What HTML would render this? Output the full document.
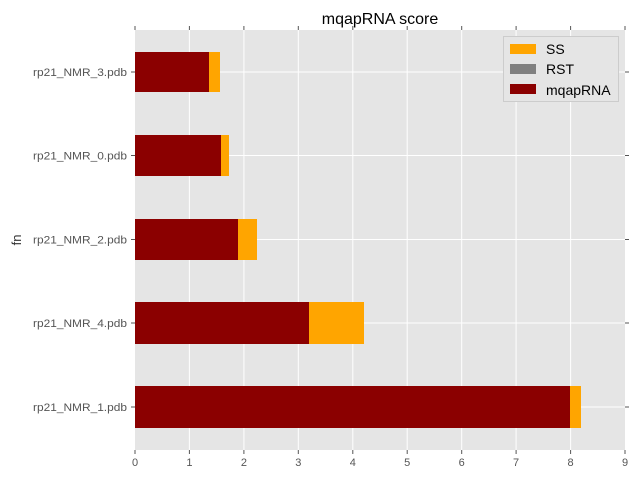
<!DOCTYPE html>
<html><head><style>body{margin:0;background:#fff}svg{display:block;font-family:"Liberation Sans","DejaVu Sans",sans-serif}</style></head>
<body>
<svg width="640" height="480" xmlns="http://www.w3.org/2000/svg">
<rect x="135" y="30" width="490" height="420" fill="#e5e5e5"/>
<g stroke="#fff" stroke-width="1">
<line x1="189.4" y1="30" x2="189.4" y2="450"/><line x1="243.9" y1="30" x2="243.9" y2="450"/><line x1="298.3" y1="30" x2="298.3" y2="450"/><line x1="352.8" y1="30" x2="352.8" y2="450"/><line x1="407.2" y1="30" x2="407.2" y2="450"/><line x1="461.7" y1="30" x2="461.7" y2="450"/><line x1="516.1" y1="30" x2="516.1" y2="450"/><line x1="570.6" y1="30" x2="570.6" y2="450"/>
<line x1="135" y1="72" x2="625" y2="72"/><line x1="135" y1="155.5" x2="625" y2="155.5"/><line x1="135" y1="239.5" x2="625" y2="239.5"/><line x1="135" y1="323" x2="625" y2="323"/><line x1="135" y1="407" x2="625" y2="407"/>
</g>
<g>
<rect x="135" y="52" width="85" height="40" fill="#ffa500"/><rect x="135" y="52" width="74" height="40" fill="#8b0000"/>
<rect x="135" y="135" width="94" height="41" fill="#ffa500"/><rect x="135" y="135" width="86" height="41" fill="#8b0000"/>
<rect x="135" y="219" width="122" height="41" fill="#ffa500"/><rect x="135" y="219" width="103" height="41" fill="#8b0000"/>
<rect x="135" y="302" width="229" height="42" fill="#ffa500"/><rect x="135" y="302" width="174" height="42" fill="#8b0000"/>
<rect x="135" y="386" width="446" height="42" fill="#ffa500"/><rect x="135" y="386" width="435" height="42" fill="#8b0000"/>
</g>
<g stroke="#555" stroke-width="1">
<line x1="135" y1="450" x2="135" y2="454"/><line x1="189.4" y1="450" x2="189.4" y2="454"/><line x1="243.9" y1="450" x2="243.9" y2="454"/><line x1="298.3" y1="450" x2="298.3" y2="454"/><line x1="352.8" y1="450" x2="352.8" y2="454"/><line x1="407.2" y1="450" x2="407.2" y2="454"/><line x1="461.7" y1="450" x2="461.7" y2="454"/><line x1="516.1" y1="450" x2="516.1" y2="454"/><line x1="570.6" y1="450" x2="570.6" y2="454"/><line x1="625" y1="450" x2="625" y2="454"/>
<line x1="135" y1="26" x2="135" y2="30"/><line x1="189.4" y1="26" x2="189.4" y2="30"/><line x1="243.9" y1="26" x2="243.9" y2="30"/><line x1="298.3" y1="26" x2="298.3" y2="30"/><line x1="352.8" y1="26" x2="352.8" y2="30"/><line x1="407.2" y1="26" x2="407.2" y2="30"/><line x1="461.7" y1="26" x2="461.7" y2="30"/><line x1="516.1" y1="26" x2="516.1" y2="30"/><line x1="570.6" y1="26" x2="570.6" y2="30"/><line x1="625" y1="26" x2="625" y2="30"/>
<line x1="131" y1="72" x2="135" y2="72"/><line x1="131" y1="155.5" x2="135" y2="155.5"/><line x1="131" y1="239.5" x2="135" y2="239.5"/><line x1="131" y1="323" x2="135" y2="323"/><line x1="131" y1="407" x2="135" y2="407"/>
<line x1="625" y1="72" x2="629" y2="72"/><line x1="625" y1="155.5" x2="629" y2="155.5"/><line x1="625" y1="239.5" x2="629" y2="239.5"/><line x1="625" y1="323" x2="629" y2="323"/><line x1="625" y1="407" x2="629" y2="407"/>
</g>
<g font-size="11" fill="#555" text-anchor="middle">
<text x="135" y="466">0</text><text x="189.4" y="466">1</text><text x="243.9" y="466">2</text><text x="298.3" y="466">3</text><text x="352.8" y="466">4</text><text x="407.2" y="466">5</text><text x="461.7" y="466">6</text><text x="516.1" y="466">7</text><text x="570.6" y="466">8</text><text x="625" y="466">9</text>
</g>
<g font-size="11" fill="#555" text-anchor="end" textLength="94">
<text x="127" y="76" textLength="94" lengthAdjust="spacingAndGlyphs">rp21_NMR_3.pdb</text><text x="127" y="159.5" textLength="94" lengthAdjust="spacingAndGlyphs">rp21_NMR_0.pdb</text><text x="127" y="243.5" textLength="94" lengthAdjust="spacingAndGlyphs">rp21_NMR_2.pdb</text><text x="127" y="327" textLength="94" lengthAdjust="spacingAndGlyphs">rp21_NMR_4.pdb</text><text x="127" y="411" textLength="94" lengthAdjust="spacingAndGlyphs">rp21_NMR_1.pdb</text>
</g>
<text x="21" y="240" font-size="13" fill="#333" text-anchor="middle" transform="rotate(-90 21 240)">fn</text>
<text x="380" y="24" font-size="16" fill="#000" text-anchor="middle">mqapRNA score</text>
<rect x="503.5" y="36.5" width="115" height="65" fill="#e5e5e5" stroke="#ccc"/>
<rect x="510" y="44" width="26" height="10" fill="#ffa500"/><rect x="510" y="64" width="26" height="10" fill="#808080"/><rect x="510" y="84" width="26" height="10" fill="#8b0000"/>
<g font-size="14" fill="#000"><text x="546" y="54">SS</text><text x="546" y="74">RST</text><text x="546" y="95">mqapRNA</text></g>
</svg>
</body></html>
